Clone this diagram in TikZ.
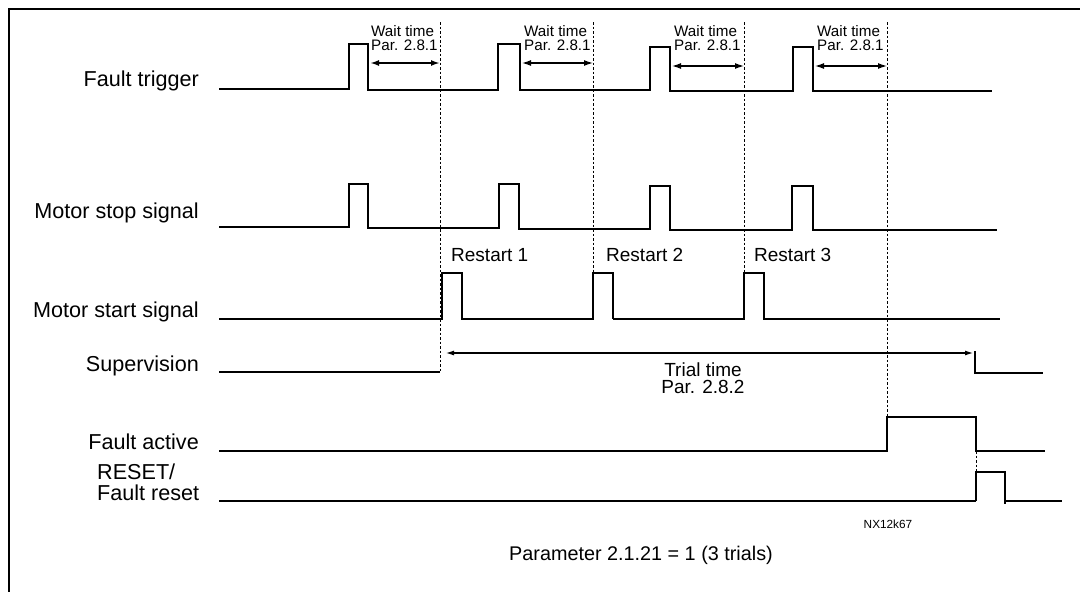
\documentclass[tikz,border=0pt]{standalone}
\usepackage{fontspec}
\setmainfont{Liberation Sans}
\usetikzlibrary{arrows.meta}
\begin{document}
\begin{tikzpicture}[x=1pt,y=-1pt,
  sig/.style={line width=1.3pt, line join=miter},
  sigthick/.style={line width=2.6pt, line join=miter},
  guide/.style={line width=0.9pt, dash pattern=on 2.5pt off 2pt},
  dimarrow/.style={line width=1.3pt, {Latex[length=9pt,width=6pt]}-{Latex[length=9pt,width=6pt]}},
  dimthick/.style={line width=2.4pt, {Latex[length=9pt,width=6pt]}-{Latex[length=9pt,width=6pt]}},
  lbl/.style={font=\fontsize{21.6}{22}\selectfont, inner sep=0pt, anchor=base east},
  waitlbl/.style={font=\fontsize{15.2}{14}\selectfont, inner sep=0pt, anchor=north west, align=left},
  rlbl/.style={font=\fontsize{19}{21}\selectfont, inner sep=0pt, anchor=west},
]
\useasboundingbox (0,0) rectangle (1080,592);
\draw[line width=2.5pt] (9,620) -- (9,9) -- (1100,9);

% left labels
\node[lbl] (lft) at (199,86) {Fault trigger};
\node[lbl] (lms) at (199,218) {Motor stop signal};
\node[lbl] (lmst) at (199,317) {Motor start signal};
\node[lbl] (lsup) at (199,371) {Supervision};
\node[lbl] (lfa) at (199,449) {Fault active};
\node[font=\fontsize{21.6}{21}\selectfont, inner sep=0pt, align=left, anchor=base west] (lrst) at (97,500) {RESET/\\Fault reset};

% guide lines (dotted)
\coordinate (g1t) at (440,22); \coordinate (g1b) at (440,372);
\coordinate (g2t) at (593,22); \coordinate (g2b) at (593,273);
\coordinate (g3t) at (744,22); \coordinate (g3b) at (744,273);
\coordinate (g4t) at (887,22); \coordinate (g4b) at (887,417);
\draw[guide] (g1t) -- (g1b);
\draw[guide] (g2t) -- (g2b);
\draw[guide] (g3t) -- (g3b);
\draw[guide] (g4t) -- (g4b);

% Fault trigger
\draw[sig] (219,89) -- (349,89) -- (349,44) -- (368,44) -- (368,90) -- (498,90) -- (498,44) -- (520,44) -- (520,90)
  -- (650,90) -- (650,47) -- (670,47) -- (670,91) -- (793,91) -- (793,47) -- (813,47) -- (813,91) -- (992,91);

% Wait time arrows and labels
\coordinate (w1a) at (370,63); \coordinate (w1b) at (440,63);
\coordinate (w2a) at (522,63); \coordinate (w2b) at (593,63);
\coordinate (w3a) at (672,66); \coordinate (w3b) at (744,66);
\coordinate (w4a) at (815,66); \coordinate (w4b) at (887,66);
\draw[dimthick] (w1a) -- (w1b);
\draw[dimarrow] (w2a) -- (w2b);
\draw[dimarrow] (w3a) -- (w3b);
\draw[dimarrow] (w4a) -- (w4b);
\node[waitlbl] (wt1) at (371,25) {Wait time\\Par. 2.8.1};
\node[waitlbl] (wt2) at (524,25) {Wait time\\Par. 2.8.1};
\node[waitlbl] (wt3) at (674,25) {Wait time\\Par. 2.8.1};
\node[waitlbl] (wt4) at (817,25) {Wait time\\Par. 2.8.1};

% Motor stop signal
\draw[sig] (219,227) -- (349,227) -- (349,184) -- (368,184) -- (368,228) -- (499,228) -- (499,184) -- (519,184) -- (519,229)
  -- (650,229) -- (650,186) -- (670,186) -- (670,230) -- (792,230) -- (792,186) -- (813,186) -- (813,230) -- (997,230);
\draw[sigthick] (348,184) -- (369,184);
\draw[sigthick] (498,184) -- (520,184);
\draw[sigthick] (519,229) -- (650,229);
\draw[sigthick] (813,186) -- (813,231);

% Motor start signal
\draw[sigthick] (219,319) -- (442,319) -- (442,273) -- (462,273) -- (462,319) -- (593,319) -- (593,273) -- (613,273) -- (613,319);
\draw[sig] (613,319) -- (744,319) -- (744,273) -- (764,273) -- (764,319) -- (1000,319);
\draw[sigthick] (744,273) -- (764,273);
\node[rlbl] (r1) at (451,255) {Restart 1};
\node[rlbl] (r2) at (606,255) {Restart 2};
\node[rlbl] (r3) at (754,255) {Restart 3};

% Supervision
\draw[sig] (219,372) -- (440,372);
\coordinate (ta) at (446,353); \coordinate (tb) at (973,353);
\draw[line width=1.1pt, {Latex[length=8pt,width=5pt]}-{Latex[length=8pt,width=5pt]}] (ta) -- (tb);
\draw[sig] (975,351) -- (975,373) -- (1043,373);
\node[font=\fontsize{19}{17}\selectfont, inner sep=0pt, align=center] (trial) at (703,378) {Trial time\\Par. 2.8.2};

% Fault active
\draw[sig] (219,451) -- (887,451) -- (887,417) -- (976,417) -- (976,451) -- (1045,451);
\draw[guide] (976,451) -- (976,472);

% RESET / Fault reset
\draw[sigthick] (219,501) -- (976,501);
\draw[sig] (976,501) -- (976,472) -- (1005,472) -- (1005,490);
\draw[sigthick] (1005,472) -- (1005,504);
\draw[sigthick] (1004,501) -- (1062,501);

% notes
\node[font=\fontsize{11.8}{12}\selectfont, inner sep=0pt] (nx) at (888,524) {NX12k67};
\node[font=\fontsize{19.8}{22}\selectfont, inner sep=0pt] (par) at (641,555) {Parameter 2.1.21 = 1 (3 trials)};
\end{tikzpicture}
\end{document}
